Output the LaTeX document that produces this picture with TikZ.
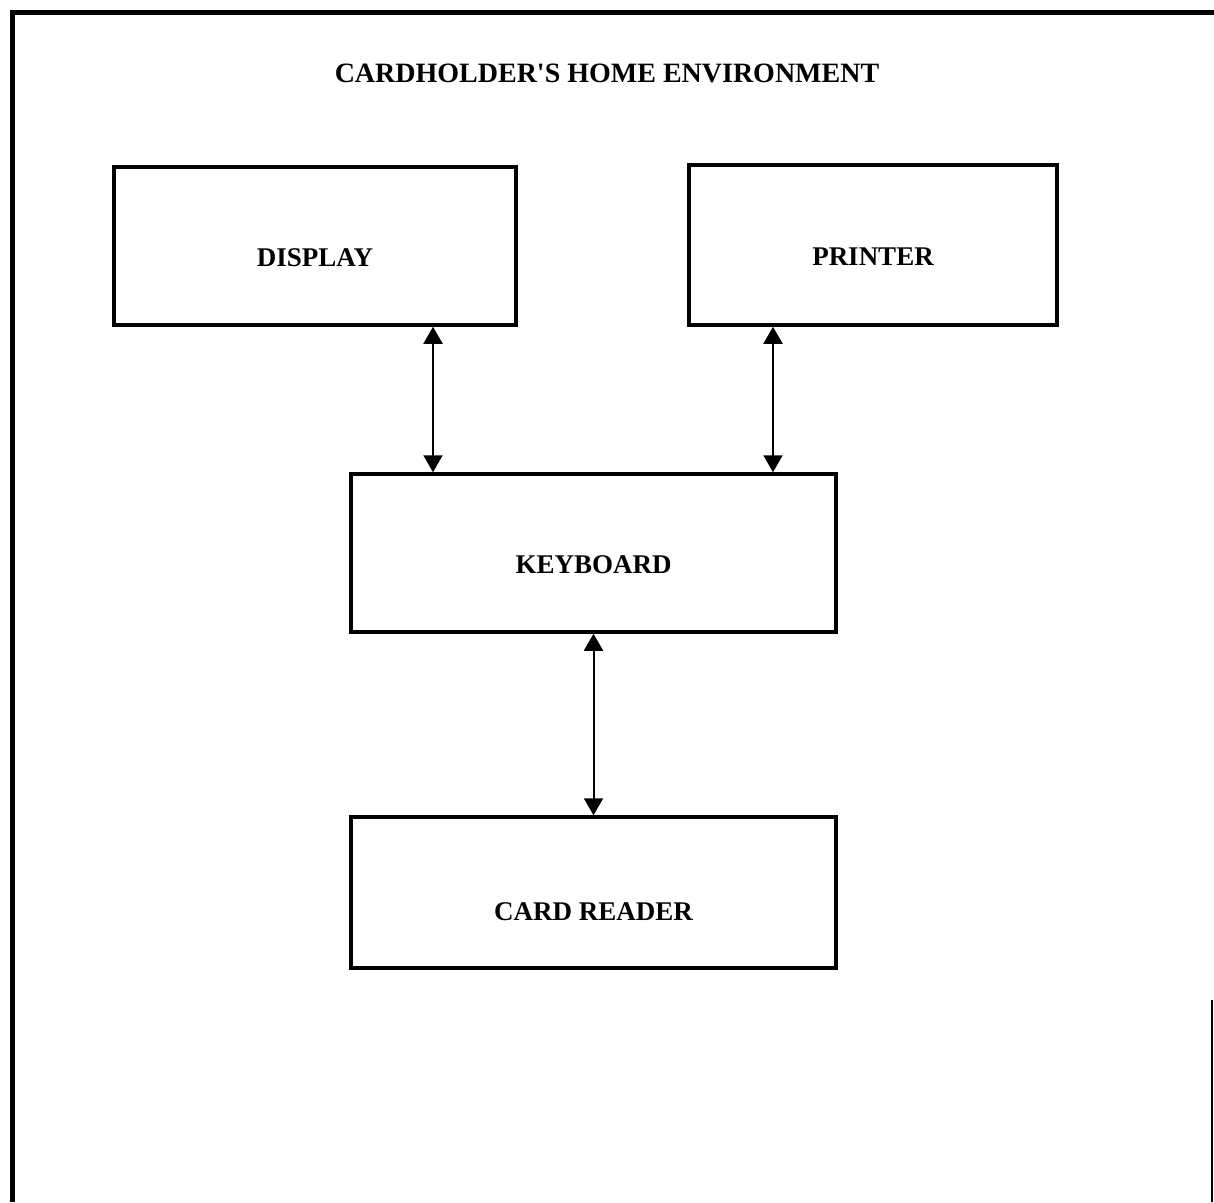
\documentclass[tikz,border=0pt]{standalone}
\usepackage{fontspec}
\setmainfont{Liberation Serif}
\usetikzlibrary{arrows.meta}

\tikzset{
  devbox/.style={draw, line width=3.5pt, font=\fontsize{27}{30}\selectfont\bfseries,
    text height=40pt, text depth=0pt, inner sep=0pt},
  link/.style={line width=2pt, {Triangle[length=17pt,width=19pt]}-{Triangle[length=17pt,width=19pt]}}
}

\begin{document}
\begin{tikzpicture}[x=1pt, y=-1pt]
  \useasboundingbox (0,0) rectangle (1214,1202);
  \fill[white] (0,0) rectangle (1214,1202);

  % frame
  \draw[line width=5pt] (12,1202) -- (12,12) -- (1214,12);
  \draw[line width=1.2pt] (1212,1000) -- (1212,1202);
  \node[font=\fontsize{28}{32}\selectfont\bfseries] (title) at (607,73) {CARDHOLDER\textquotesingle S HOME ENVIRONMENT};

  % devices
  \node[devbox, minimum width=402pt, minimum height=158pt] (display) at (315,246) {DISPLAY};
  \node[devbox, minimum width=368pt, minimum height=160pt] (printer) at (873,245) {PRINTER};
  \node[devbox, minimum width=485pt, minimum height=158pt] (keyboard) at (593.5,553) {KEYBOARD};
  \node[devbox, minimum width=485pt, minimum height=151pt, text height=56pt] (reader) at (593.5,892.5) {CARD READER};

  % links
  \draw[link] ([xshift=118pt]display.south) -- ([xshift=118pt]display.south |- keyboard.north);
  \draw[link] ([xshift=-100pt]printer.south) -- ([xshift=-100pt]printer.south |- keyboard.north);
  \draw[link] (keyboard.south) -- (reader.north);
\end{tikzpicture}
\end{document}
